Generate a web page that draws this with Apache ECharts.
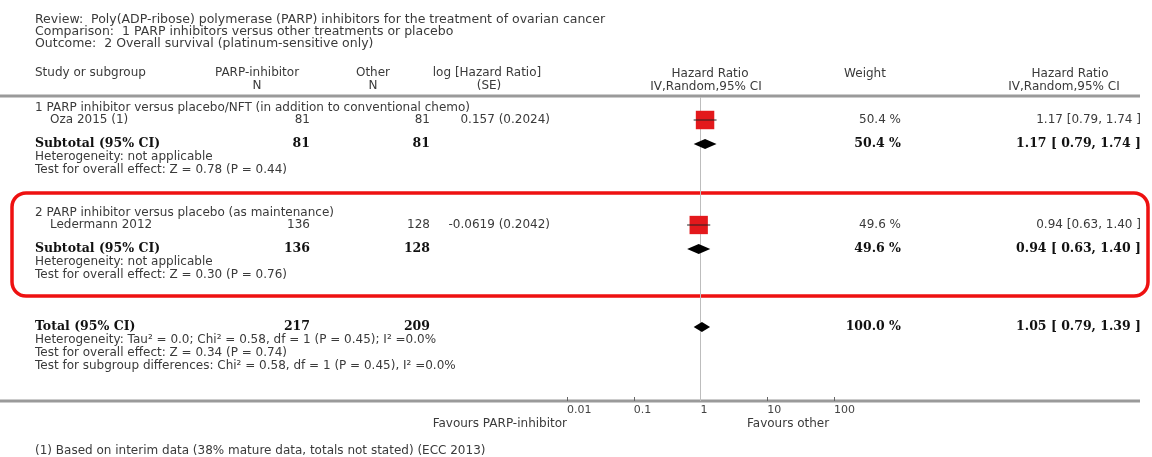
<!DOCTYPE html>
<html>
<head>
<meta charset="utf-8">
<title>PARP inhibitors – overall survival forest plot</title>
<script src="https://cdn.jsdelivr.net/npm/echarts@6/dist/echarts.min.js"></script>
<style>
  html, body { margin: 0; padding: 0; background: #fff; }
  #chart { width: 1152px; height: 457px; }
</style>
</head>
<body>
<div id="chart"></div>
<script>
// ---- Data ----
const studyNames   = ['Oza 2015 (1)', 'Ledermann 2012'];
const nParp        = [81, 136];
const nOther       = [81, 128];
const logHR        = [0.157, -0.0619];
const seLogHR      = [0.2024, 0.2042];
const studyWeight  = [50.4, 49.6];
const studyHR      = [1.17, 0.94];
const studyLow     = [0.79, 0.63];
const studyHigh    = [1.74, 1.40];

const subgroupTitles = [
  '1 PARP inhibitor versus placebo/NFT (in addition to conventional chemo)',
  '2 PARP inhibitor versus placebo (as maintenance)'
];
const subNParp   = [81, 136];
const subNOther  = [81, 128];
const subWeight  = [50.4, 49.6];
const subHR      = [1.17, 0.94];
const subLow     = [0.79, 0.63];
const subHigh    = [1.74, 1.40];
const subHetero  = ['Heterogeneity: not applicable', 'Heterogeneity: not applicable'];
const subEffect  = ['Test for overall effect: Z = 0.78 (P = 0.44)', 'Test for overall effect: Z = 0.30 (P = 0.76)'];

const totalNParp  = 217;
const totalNOther = 209;
const totalWeight = 100.0;
const totalHR     = 1.05;
const totalLow    = 0.79;
const totalHigh   = 1.39;
const totalNotes  = [
  'Heterogeneity: Tau\u00b2 = 0.0; Chi\u00b2 = 0.58, df = 1 (P = 0.45); I\u00b2 =0.0%',
  'Test for overall effect: Z = 0.34 (P = 0.74)',
  'Test for subgroup differences: Chi\u00b2 = 0.58, df = 1 (P = 0.45), I\u00b2 =0.0%'
];

const tickValues = [0.01, 0.1, 1, 10, 100];
const tickLabels = ['0.01', '0.1', '1', '10', '100'];

// ---- Layout (row centres in page pixels) ----
const studyRowY = [120, 225];
const subRowY   = [144, 249];
const headRowY  = [108, 213];
const totalRowY = 327;

const COL = { study: 35, studyIndent: 50, nParp: 310, nOther: 430, logHR: 550, weight: 901, hr: 1141 };
const FS = 12;
const SANS = '"DejaVu Sans", Verdana, sans-serif';
const SERIF = '"DejaVu Serif", serif';
const GREY = '#3a3a3a';

function txt(x, y, s, opt) {
  opt = opt || {};
  return {
    type: 'text', x: x, y: y, silent: true,
    style: {
      text: s,
      fontFamily: opt.bold ? SERIF : SANS,
      fontWeight: opt.bold ? 'bold' : 'normal',
      fontSize: opt.size || (opt.bold ? 12.5 : FS),
      fill: opt.color || (opt.bold ? '#111' : GREY),
      align: opt.align || 'left',
      verticalAlign: 'middle'
    }
  };
}
const fmt2 = v => v.toFixed(2);
const ciText = (h, l, u, bold) => bold
  ? fmt2(h) + ' [ ' + fmt2(l) + ', ' + fmt2(u) + ' ]'
  : fmt2(h) + ' [' + fmt2(l) + ', ' + fmt2(u) + ' ]';

const g = [];
// header
g.push(txt(COL.study, 20, 'Review:  Poly(ADP-ribose) polymerase (PARP) inhibitors for the treatment of ovarian cancer', { size: 12.5 }));
g.push(txt(COL.study, 32, 'Comparison:  1 PARP inhibitors versus other treatments or placebo', { size: 12.5 }));
g.push(txt(COL.study, 44, 'Outcome:  2 Overall survival (platinum-sensitive only)', { size: 12.5 }));
g.push(txt(COL.study, 73, 'Study or subgroup'));
g.push(txt(257, 73, 'PARP-inhibitor', { align: 'center' }));
g.push(txt(257, 86, 'N', { align: 'center' }));
g.push(txt(373, 73, 'Other', { align: 'center' }));
g.push(txt(373, 86, 'N', { align: 'center' }));
g.push(txt(487, 73, 'log [Hazard Ratio]', { align: 'center' }));
g.push(txt(489, 86, '(SE)', { align: 'center' }));
g.push(txt(710, 74, 'Hazard Ratio', { align: 'center' }));
g.push(txt(706, 87, 'IV,Random,95% CI', { align: 'center' }));
g.push(txt(865, 74, 'Weight', { align: 'center' }));
g.push(txt(1070, 74, 'Hazard Ratio', { align: 'center' }));
g.push(txt(1064, 87, 'IV,Random,95% CI', { align: 'center' }));
// rules
g.push({ type: 'line', silent: true, shape: { x1: 0, y1: 96, x2: 1140, y2: 96 }, style: { stroke: '#9a9a9a', lineWidth: 3 } });
g.push({ type: 'line', silent: true, shape: { x1: 0, y1: 401, x2: 1140, y2: 401 }, style: { stroke: '#9a9a9a', lineWidth: 3 } });

// subgroups
for (let i = 0; i < studyNames.length; i++) {
  g.push(txt(COL.study, headRowY[i], subgroupTitles[i]));
  g.push(txt(COL.studyIndent, studyRowY[i], studyNames[i]));
  g.push(txt(COL.nParp, studyRowY[i], String(nParp[i]), { align: 'right' }));
  g.push(txt(COL.nOther, studyRowY[i], String(nOther[i]), { align: 'right' }));
  g.push(txt(COL.logHR, studyRowY[i], logHR[i] + ' (' + seLogHR[i] + ')', { align: 'right' }));
  g.push(txt(COL.weight, studyRowY[i], studyWeight[i].toFixed(1) + ' %', { align: 'right' }));
  g.push(txt(COL.hr, studyRowY[i], ciText(studyHR[i], studyLow[i], studyHigh[i], false), { align: 'right' }));

  g.push(txt(COL.study, subRowY[i], 'Subtotal (95% CI)', { bold: true }));
  g.push(txt(COL.nParp, subRowY[i], String(subNParp[i]), { bold: true, align: 'right' }));
  g.push(txt(COL.nOther, subRowY[i], String(subNOther[i]), { bold: true, align: 'right' }));
  g.push(txt(COL.weight, subRowY[i], subWeight[i].toFixed(1) + ' %', { bold: true, align: 'right' }));
  g.push(txt(COL.hr, subRowY[i], ciText(subHR[i], subLow[i], subHigh[i], true), { bold: true, align: 'right' }));
  g.push(txt(COL.study, subRowY[i] + 13, subHetero[i]));
  g.push(txt(COL.study, subRowY[i] + 26, subEffect[i]));
}
// total
g.push(txt(COL.study, totalRowY, 'Total (95% CI)', { bold: true }));
g.push(txt(COL.nParp, totalRowY, String(totalNParp), { bold: true, align: 'right' }));
g.push(txt(COL.nOther, totalRowY, String(totalNOther), { bold: true, align: 'right' }));
g.push(txt(COL.weight, totalRowY, totalWeight.toFixed(1) + ' %', { bold: true, align: 'right' }));
g.push(txt(COL.hr, totalRowY, ciText(totalHR, totalLow, totalHigh, true), { bold: true, align: 'right' }));
totalNotes.forEach((s, k) => g.push(txt(COL.study, totalRowY + 13 * (k + 1), s)));

// favours + footnote
g.push(txt(567, 424, 'Favours PARP-inhibitor', { align: 'right' }));
g.push(txt(747, 424, 'Favours other'));
g.push(txt(COL.study, 451, '(1) Based on interim data (38% mature data, totals not stated) (ECC 2013)'));

// highlight frame around subgroup 2
g.push({ type: 'rect', silent: true, shape: { x: 12, y: 193, width: 1136, height: 103, r: 14 }, style: { fill: 'none', stroke: '#ee1111', lineWidth: 3.5 } });

// ---- Series data ----
const ciData = studyNames.map((_, i) => [studyLow[i], studyHigh[i], studyRowY[i]]);
const squareData = studyNames.map((_, i) => ({ value: [studyHR[i], studyRowY[i]], w: studyWeight[i] }));
const diamondData = subHR.map((h, i) => [subLow[i], subHigh[i], subRowY[i], h])
  .concat([[totalLow, totalHigh, totalRowY, totalHR]]);

const chart = echarts.init(document.getElementById('chart'), null, { renderer: 'canvas' });
chart.setOption({
  animation: false,
  backgroundColor: '#fff',
  graphic: { elements: g },
  grid: { left: 567, right: 318, top: 97, bottom: 56 },
  xAxis: {
    type: 'log', logBase: 10, min: 0.01, max: 100, interval: 1,
    axisLine: { show: false },
    axisTick: { show: true, inside: true, length: 4, lineStyle: { color: '#666' } },
    splitLine: { show: false },
    axisLabel: {
      show: true, align: 'left', margin: 4, fontSize: 11, fontFamily: SANS, color: '#444',
      formatter: v => { const k = tickValues.findIndex(t => Math.abs(Math.log10(t) - Math.log10(v)) < 1e-6); return k >= 0 ? tickLabels[k] : ''; }
    }
  },
  yAxis: { type: 'value', min: 97, max: 401, inverse: true, show: false },
  series: [
    {
      // line of no effect
      type: 'line', name: 'no-effect', data: [], z: 1, silent: true,
      markLine: {
        silent: true, symbol: ['none', 'none'], label: { show: false }, z: 1,
        lineStyle: { color: '#bdbdbd', width: 1, type: 'solid' },
        data: [{ xAxis: 1 }]
      }
    },
    {
      type: 'scatter', name: 'study', data: squareData, silent: true, z: 5,
      symbol: 'rect',
      symbolSize: (val, p) => Math.sqrt(p.data.w) * 2.6,
      itemStyle: { color: '#e3191c', opacity: 1 }
    },
    {
      type: 'custom', name: 'ci', data: ciData, silent: true, z: 6,
      renderItem: (params, api) => {
        const a = api.coord([api.value(0), api.value(2)]);
        const b = api.coord([api.value(1), api.value(2)]);
        return { type: 'line', shape: { x1: a[0], y1: a[1], x2: b[0], y2: b[1] }, style: { stroke: '#222', lineWidth: 1 } };
      }
    },
    {
      type: 'custom', name: 'pooled', data: diamondData, silent: true, z: 6,
      renderItem: (params, api) => {
        const y = api.value(2);
        const l = api.coord([api.value(0), y]);
        const r = api.coord([api.value(1), y]);
        const c = api.coord([api.value(3), y]);
        const h = 5;
        return {
          type: 'polygon',
          shape: { points: [[l[0], l[1]], [c[0], c[1] - h], [r[0], r[1]], [c[0], c[1] + h]] },
          style: { fill: '#000' }
        };
      }
    }
  ]
});
</script>
</body>
</html>
